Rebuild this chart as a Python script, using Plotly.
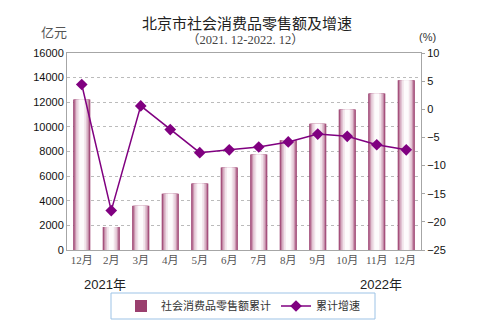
import plotly.graph_objects as go

categories = ["12月", "2月", "3月", "4月", "5月", "6月", "7月", "8月", "9月", "10月", "11月", "12月 "]
retail_total = [12220, 1865, 3590, 4570, 5400, 6700, 7760, 8920, 10245, 11410, 12705, 13785]
growth_rate = [4.4, -18.0, 0.6, -3.6, -7.7, -7.2, -6.7, -5.8, -4.4, -4.8, -6.3, -7.2]

bar_layers = [
    (0.58, "#8E2A5E"),
    (0.53, "#AE6088"),
    (0.47, "#CB98B1"),
    (0.39, "#E2C4D3"),
    (0.29, "#F1E3EA"),
    (0.17, "#FDFBFC"),
]

fig = go.Figure()
for i, (w, c) in enumerate(bar_layers):
    fig.add_trace(go.Bar(
        x=categories, y=retail_total, width=w,
        marker=dict(color=c if i else "#9A3F6E", line=dict(width=0)),
        name="社会消费品零售额累计",
        showlegend=(i == 0), legendgroup="bars",
        hoverinfo="y",
    ))
fig.add_trace(go.Scatter(
    x=categories, y=growth_rate, yaxis="y2", mode="lines+markers",
    name="累计增速",
    line=dict(color="#800080", width=1.5),
    marker=dict(symbol="diamond", size=9, color="#800080"),
))

fig.update_layout(
    width=492, height=327,
    margin=dict(l=67, r=71, t=53, b=77, autoexpand=False),
    paper_bgcolor="white", plot_bgcolor="white",
    barmode="overlay",
    font=dict(family="Liberation Sans, Noto Sans CJK SC", size=11, color="#222"),
    xaxis=dict(
        type="category", range=[-0.5, len(categories) - 0.5], autorange=False,
        showline=True, linecolor="#A6A6A6", mirror=True,
        ticks="", tickfont=dict(family="Liberation Serif, Noto Sans CJK SC", size=11, color="#555"),
        showgrid=False,
    ),
    yaxis=dict(
        range=[0, 16000], dtick=2000, tickformat="d", showline=True, linecolor="#A6A6A6", mirror=True,
        showgrid=True, gridcolor="#BBBBBB", griddash="dot", gridwidth=1,
        tickfont=dict(size=11, color="#111"), zeroline=False, ticks="",
    ),
    yaxis2=dict(
        range=[-25, 10], dtick=5, overlaying="y", side="right",
        showgrid=False, zeroline=False, showline=False,
        ticks="outside", ticklen=3, tickcolor="#A6A6A6",
        tickfont=dict(size=11, color="#111"),
    ),
    legend=dict(
        orientation="h", x=243 / 492, xanchor="center", xref="container",
        yref="container", y=1 - 306 / 327, yanchor="middle",
        borderwidth=0, bgcolor="rgba(0,0,0,0)",
        font=dict(family="Noto Sans CJK SC", size=11, color="#333"),
        itemwidth=30, tracegroupgap=0,
    ),
    showlegend=True,
)

# legend frame
fig.add_shape(
    type="rect", xref="paper", yref="paper",
    x0=(111 - 67) / 354, x1=(375 - 67) / 354,
    y0=(250 - 319) / 197, y1=(250 - 293) / 197,
    line=dict(color="#9DC3E6", width=1), fillcolor="rgba(0,0,0,0)",
)

annotations = [
    dict(text="北京市社会消费品零售额及增速", x=247, y=22, size=15, family="Noto Sans CJK SC", color="#222"),
    dict(text="（2021. 12-2022. 12）", x=246, y=40, size=12.5, family="Liberation Serif, Noto Sans CJK SC", color="#444"),
    dict(text="亿元", x=54, y=31, size=13, family="Noto Sans CJK SC", color="#555"),
    dict(text="(%)", x=427, y=37, size=11, family="Liberation Sans", color="#333"),
    dict(text="2021年", x=105, y=284, size=13, family="Liberation Sans, Noto Sans CJK SC", color="#222"),
    dict(text="2022年", x=381, y=284, size=13, family="Liberation Sans, Noto Sans CJK SC", color="#222"),
]
for a in annotations:
    fig.add_annotation(
        text=a["text"], xref="paper", yref="paper",
        x=(a["x"] - 67) / (492 - 67 - 71), y=(250 - a["y"]) / (250 - 53),
        xanchor="center", yanchor="middle", showarrow=False,
        font=dict(size=a["size"], family=a["family"], color=a["color"]),
    )

fig.write_html("out.html")
